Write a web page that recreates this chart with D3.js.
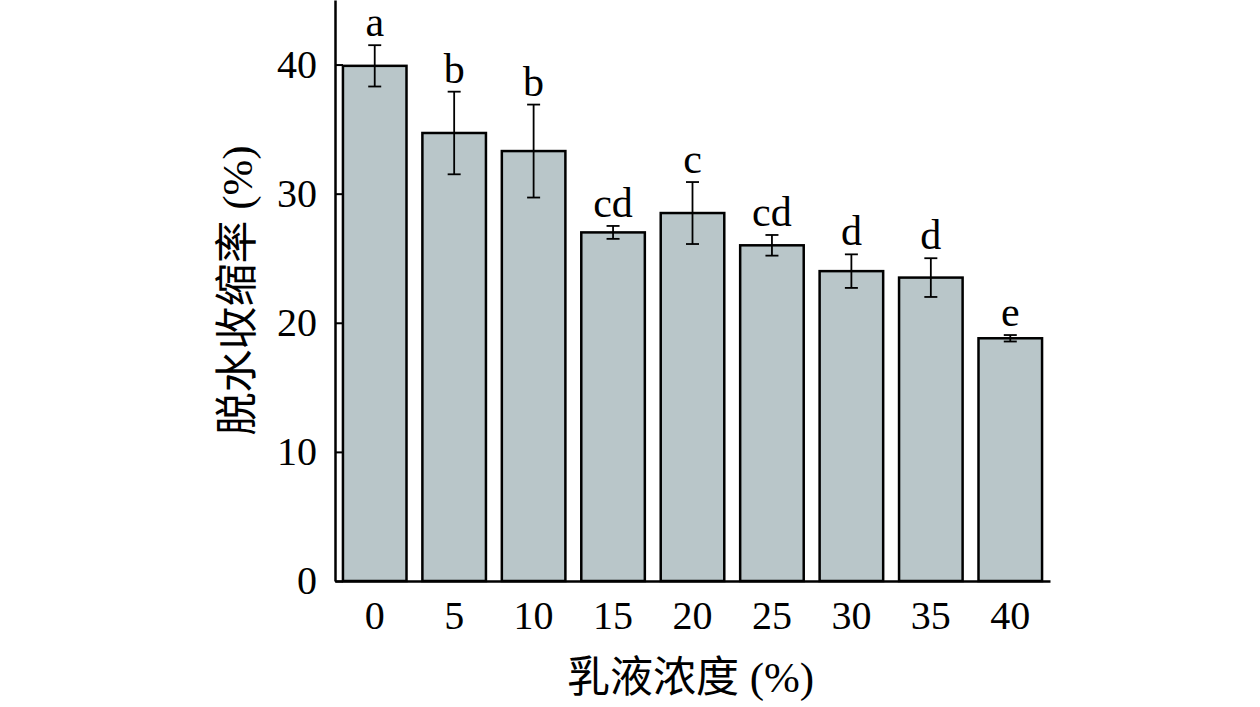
<!DOCTYPE html>
<html>
<head>
<meta charset="utf-8">
<script src="https://cdn.jsdelivr.net/npm/d3@7"></script>
<style>
  body { margin: 0; background: #fff; }
  text { font-family: "Liberation Serif", "Times New Roman", serif; fill: #000; }
  .cjk { font-family: "Noto Sans CJK SC", sans-serif; }
  .latin { font-family: "Liberation Serif", serif; }
</style>
</head>
<body>
<div id="chart"></div>
<script>
// data
const concentrations = ["0", "5", "10", "15", "20", "25", "30", "35", "40"];
const shrinkage = [39.9, 34.7, 33.3, 27.0, 28.5, 26.0, 24.0, 23.5, 18.8];
const errors = [1.6, 3.2, 3.6, 0.5, 2.4, 0.8, 1.3, 1.5, 0.25];
const letters = ["a", "b", "b", "cd", "c", "cd", "d", "d", "e"];
const yTicks = [0, 10, 20, 30, 40];

const width = 1260;
const height = 707;

const X_LEFT = 335;
const X_RIGHT = 1050;
const Y_BOTTOM = 581;
const Y_TOP = 0;

const BAR_FILL = "#b9c6c9";
const TICK_FONT = 40;
const LETTER_FONT = 42;
const TITLE_FONT = 43;

const svg = d3.select("#chart")
  .append("svg")
  .attr("width", width)
  .attr("height", height);

const x = d3.scaleBand()
  .domain(concentrations)
  .range([X_LEFT, X_RIGHT])
  .paddingInner(0.2)
  .paddingOuter(0.1);

const y = d3.scaleLinear()
  .domain([0, 45])
  .range([Y_BOTTOM, Y_TOP]);

const rows = concentrations.map((c, i) => ({
  c: c, v: shrinkage[i], e: errors[i], l: letters[i]
}));

// bars
svg.append("g")
  .selectAll("rect")
  .data(rows)
  .enter()
  .append("rect")
  .attr("x", d => x(d.c))
  .attr("y", d => y(d.v))
  .attr("width", x.bandwidth())
  .attr("height", d => Y_BOTTOM - y(d.v))
  .attr("fill", BAR_FILL)
  .attr("stroke", "#000")
  .attr("stroke-width", 2.5);

// error bars
const err = svg.append("g")
  .selectAll("g")
  .data(rows)
  .enter()
  .append("g")
  .attr("stroke", "#000")
  .attr("stroke-width", 1.8);

const cx = d => x(d.c) + x.bandwidth() / 2;
const cap = 6.5;

err.append("line")
  .attr("x1", cx).attr("x2", cx)
  .attr("y1", d => y(d.v + d.e)).attr("y2", d => y(d.v - d.e));
err.append("line")
  .attr("x1", d => cx(d) - cap).attr("x2", d => cx(d) + cap)
  .attr("y1", d => y(d.v + d.e)).attr("y2", d => y(d.v + d.e));
err.append("line")
  .attr("x1", d => cx(d) - cap).attr("x2", d => cx(d) + cap)
  .attr("y1", d => y(d.v - d.e)).attr("y2", d => y(d.v - d.e));

// significance letters
svg.append("g")
  .selectAll("text")
  .data(rows)
  .enter()
  .append("text")
  .attr("x", cx)
  .attr("y", d => y(d.v + d.e) - 9)
  .attr("text-anchor", "middle")
  .style("font-size", LETTER_FONT + "px")
  .text(d => d.l);

// y axis
const yAxis = d3.axisLeft(y)
  .tickValues(yTicks)
  .tickSizeInner(-8)
  .tickSizeOuter(0)
  .tickPadding(18);

const gy = svg.append("g")
  .attr("transform", `translate(${X_LEFT},0)`)
  .call(yAxis);
gy.select(".domain").attr("stroke-width", 2.5);
gy.selectAll(".tick line").attr("stroke-width", 2);
gy.selectAll(".tick text")
  .style("font-size", TICK_FONT + "px")
  .style("font-family", "Liberation Serif, serif");

// x axis
const xAxis = d3.axisBottom(x)
  .tickSize(0)
  .tickPadding(20);

const gx = svg.append("g")
  .attr("transform", `translate(0,${Y_BOTTOM})`)
  .call(xAxis);
gx.select(".domain").attr("stroke-width", 2.5);
gx.selectAll(".tick text")
  .style("font-size", TICK_FONT + "px")
  .style("font-family", "Liberation Serif, serif");

// axis titles: CJK part and "(%)" part in separate tspans
function title(sel, cjk) {
  sel.append("tspan").attr("class", "cjk").text(cjk);
  sel.append("tspan").attr("class", "latin").text(" (%)");
}

svg.append("text")
  .attr("x", (X_LEFT + X_RIGHT) / 2 - 2)
  .attr("y", 692)
  .attr("text-anchor", "middle")
  .style("font-size", TITLE_FONT + "px")
  .call(title, "乳液浓度");

svg.append("text")
  .attr("transform", `translate(252,${(Y_BOTTOM + Y_TOP) / 2}) rotate(-90)`)
  .attr("text-anchor", "middle")
  .style("font-size", TITLE_FONT + "px")
  .call(title, "脱水收缩率");
</script>
</body>
</html>
